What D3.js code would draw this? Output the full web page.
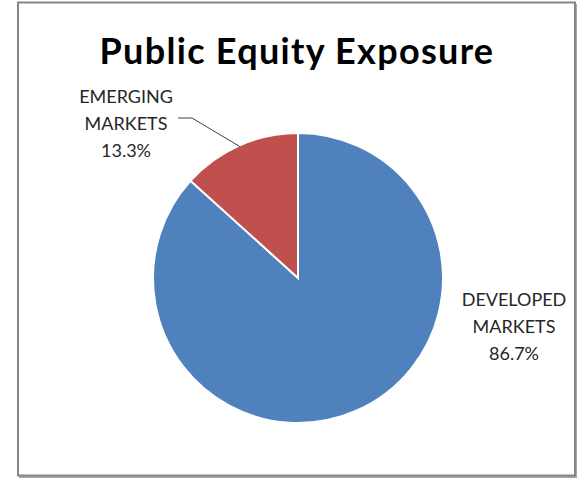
<!DOCTYPE html>
<html>
<head>
<meta charset="utf-8">
<script src="https://cdn.jsdelivr.net/npm/d3@7"></script>
<style>
  html, body { margin: 0; padding: 0; background: #fff; }
  svg { display: block; }
</style>
</head>
<body>
<svg id="chart" width="578" height="480"></svg>
<script>
// Share of public equity exposure by market type
const categories = ["DEVELOPED MARKETS", "EMERGING MARKETS"];
const labelLines = [["DEVELOPED", "MARKETS"], ["EMERGING", "MARKETS"]];
const shares = [86.7, 13.3];
const colors = ["#4F81BD", "#C0504D"];

const svg = d3.select("#chart");
const cx = 298, cy = 278, R = 145;
const font = "Lato, 'Open Sans', sans-serif";

// Frame with a soft shadow on the right and bottom
svg.append("rect").attr("x", 19).attr("y", 4).attr("width", 558).attr("height", 474)
  .attr("fill", "#a6a6a6");
svg.append("rect").attr("x", 18).attr("y", 2.5).attr("width", 557).attr("height", 473)
  .attr("fill", "#fff").attr("stroke", "#868686").attr("stroke-width", 2);

// Title
svg.append("text")
  .attr("x", 297).attr("y", 64)
  .attr("text-anchor", "middle")
  .attr("font-family", font)
  .attr("font-weight", "bold")
  .attr("font-size", 36)
  .attr("letter-spacing", 1.3)
  .attr("fill", "#000")
  .text("Public Equity Exposure");

const data = categories.map((c, i) => ({ name: c, lines: labelLines[i], value: shares[i], color: colors[i] }));

const pie = d3.pie().value(d => d.value).sort(null);
const arc = d3.arc().innerRadius(0).outerRadius(R);
const arcs = pie(data);

const g = svg.append("g").attr("transform", `translate(${cx},${cy})`);
g.selectAll("path").data(arcs).join("path")
  .attr("d", arc)
  .attr("fill", d => d.data.color)
  .attr("stroke", "#fff")
  .attr("stroke-width", 2);

// Data labels
const labelPos = [
  { x: 514, y: 301 },
  { x: 126, y: 98 }
];
const lineGap = 27;
arcs.forEach((a, i) => {
  const p = labelPos[i];
  const t = svg.append("text")
    .attr("text-anchor", "middle")
    .attr("font-family", font)
    .attr("font-size", 18)
    .attr("fill", "#262626");
  const rows = a.data.lines.concat([d3.format(".1f")(a.data.value) + "%"]);
  rows.forEach((r, k) => {
    t.append("tspan").attr("x", p.x).attr("y", p.y + k * lineGap)
      .attr("dominant-baseline", "middle").text(r);
  });
});

// Leader line for the small slice
const em = arcs[1];
const mid = (em.startAngle + em.endAngle) / 2;
const edge = [cx + (R - 1) * Math.sin(mid), cy - (R - 1) * Math.cos(mid)];
svg.append("polyline")
  .attr("points", [[178, 118], [192, 118], edge].map(p => p.join(",")).join(" "))
  .attr("fill", "none")
  .attr("stroke", "#404040")
  .attr("stroke-width", 1);
</script>
</body>
</html>
